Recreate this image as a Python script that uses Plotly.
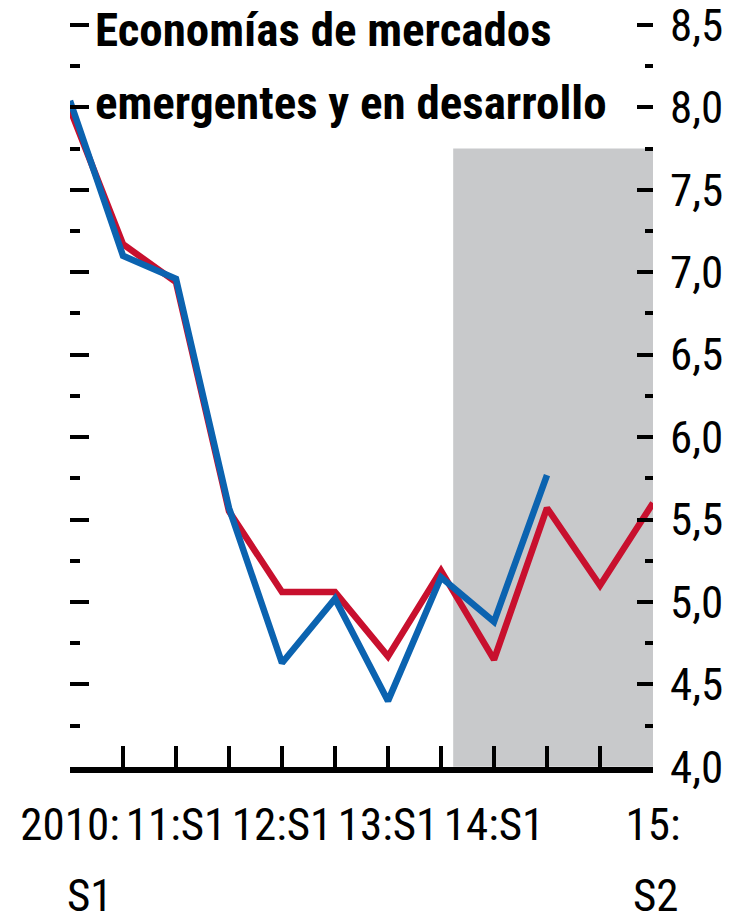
import plotly.graph_objects as go

periods = ["2010:S1", "2010:S2", "11:S1", "11:S2", "12:S1", "12:S2",
           "13:S1", "13:S2", "14:S1", "14:S2", "15:S1", "15:S2"]
tick_labels = ["2010:", "", "11:S1", "", "12:S1", "", "13:S1", "",
               "14:S1", "", "", "15:"]
second_line_labels = {"2010:S1": "S1", "15:S2": "S2"}
red_values = [7.99, 7.17, 6.94, 5.55, 5.06, 5.06, 4.67, 5.19, 4.65, 5.57, 5.10, 5.60]
blue_values = [8.04, 7.10, 6.96, 5.57, 4.63, 5.02, 4.40, 5.15, 4.88, 5.77]
shade_start = 7.23
shade_end = 11
shade_top = 7.75
y_min, y_max = 4.0, 8.5
y_pad_top = 0.018
title_lines = ["Economías de mercados", "emergentes y en desarrollo"]

FONT = "Roboto Condensed, DejaVu Sans Condensed, sans-serif"
TICK_SIZE = 45
TITLE_SIZE = 47

# page is offset by 8px body margin; plot area in page px: x 70..653, y 22..767
W, H = 736, 921
L, R, T, B = 62, 91, 14, 162
plot_h = H - T - B
PLOT_TOP_PAGE = T + 8
PLOT_BOTTOM_PAGE = H - B + 8

fig = go.Figure()
fig.add_trace(go.Scatter(x=periods, y=red_values, mode="lines",
                         line=dict(color="#C8102E", width=6.5), showlegend=False))
fig.add_trace(go.Scatter(x=periods[:len(blue_values)], y=blue_values, mode="lines",
                         line=dict(color="#0B63B0", width=6.5), showlegend=False))
fig.add_trace(go.Scatter(x=[periods[0]], y=[None], yaxis="y2", mode="lines",
                         showlegend=False, hoverinfo="skip"))

fig.add_shape(type="rect", xref="x", yref="y", x0=shade_start, x1=shade_end,
              y0=y_min, y1=shade_top, fillcolor="#C8C9CB", line=dict(width=0),
              layer="below")

annotations = []
title_tops = [0, 73]  # page px of text box tops
for line, top in zip(title_lines, title_tops):
    annotations.append(dict(text="<b>" + line + "</b>", xref="paper", yref="paper",
                            x=(93 - 70) / 583, y=1 + (PLOT_TOP_PAGE - top) / plot_h,
                            xanchor="left", yanchor="top", align="left", showarrow=False,
                            font=dict(family=FONT, size=TITLE_SIZE, color="black")))
shifts = {"2010:S1": 20, "15:S2": 3}
for cat, txt in second_line_labels.items():
    annotations.append(dict(text=txt, xref="x", yref="paper", x=cat,
                            y=-(867 - PLOT_BOTTOM_PAGE) / plot_h, xshift=shifts[cat],
                            xanchor="center", yanchor="top", showarrow=False,
                            font=dict(family=FONT, size=TICK_SIZE, color="black")))

fig.update_layout(
    width=W, height=H,
    margin=dict(l=L, r=R, t=T, b=B),
    paper_bgcolor="white", plot_bgcolor="white",
    font=dict(family=FONT, color="black", size=TICK_SIZE),
    xaxis=dict(type="category", categoryorder="array", categoryarray=periods,
               range=[0, 11], tickmode="array", tickvals=periods, ticktext=tick_labels,
               tickangle=0, automargin=False, ticklabeloverflow="allow",
               ticks="inside", ticklen=21, tickwidth=4, tickcolor="black",
               showline=True, linewidth=6, linecolor="black",
               showgrid=False, zeroline=False,
               tickfont=dict(family=FONT, size=TICK_SIZE, color="black"),
               ticklabelstandoff=13),
    yaxis=dict(side="right", range=[y_min - 0.001, y_max + y_pad_top], dtick=0.5, tick0=4,
               tickformat=".1f", automargin=False, ticklabeloverflow="allow",
               ticks="inside", ticklen=16, tickwidth=4, tickcolor="black",
               minor=dict(dtick=0.25, tick0=4, ticks="inside", ticklen=8, tickwidth=4,
                          tickcolor="black", showgrid=False),
               showline=False, showgrid=False, zeroline=False,
               tickfont=dict(family=FONT, size=TICK_SIZE, color="black"),
               ticklabelstandoff=16),
    yaxis2=dict(overlaying="y", side="left", range=[y_min - 0.001, y_max + y_pad_top],
                dtick=0.5, tick0=4, automargin=False,
                ticks="inside", ticklen=19, tickwidth=4, tickcolor="black",
                minor=dict(dtick=0.25, tick0=4, ticks="inside", ticklen=10, tickwidth=4,
                           tickcolor="black", showgrid=False),
                showticklabels=False, showline=False, showgrid=False, zeroline=False),
    separators=", ",
    annotations=annotations,
)

fig.write_html("out.html")
